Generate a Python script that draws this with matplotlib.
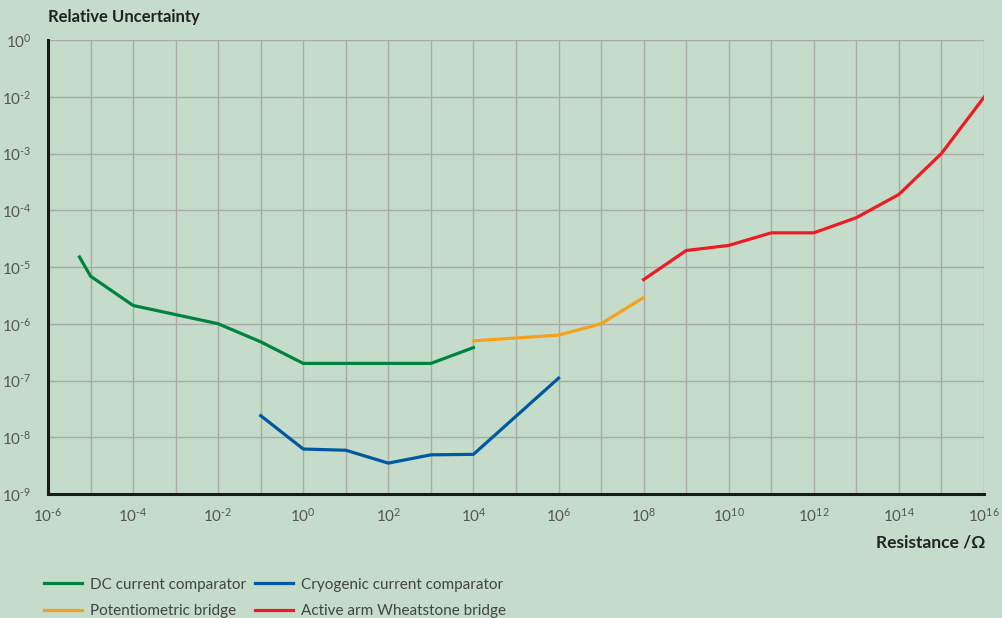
import matplotlib.pyplot as plt
import numpy as np

plt.rcParams['font.family'] = ['Lato', 'DejaVu Sans']
plt.rcParams['mathtext.fontset'] = 'custom'
plt.rcParams['mathtext.rm'] = 'Lato'
plt.rcParams['mathtext.it'] = 'Lato'

# ---- data ----
dc_r = [5.5e-6, 1e-5, 1e-4, 1e-2, 1e-1, 1e0, 1e1, 1e2, 1e3, 1e4]
dc_u = [1.5e-5, 6.9e-6, 2.1e-6, 1.0e-6, 4.8e-7, 2.0e-7, 2.0e-7, 2.0e-7, 2.0e-7, 3.8e-7]

cryo_r = [1e-1, 1e0, 1e1, 1e2, 1e3, 1e4, 1e6]
cryo_u = [2.4e-8, 6.2e-9, 5.9e-9, 3.5e-9, 4.9e-9, 5.0e-9, 1.1e-7]

pot_r = [1e4, 1e6, 1e7, 1e8]
pot_u = [5.0e-7, 6.3e-7, 1.0e-6, 2.9e-6]

wheat_r = [1e8, 1e9, 1e10, 1e11, 1e12, 1e13, 1e14, 1e15, 1e16]
wheat_u = [6.0e-6, 1.95e-5, 2.4e-5, 4.0e-5, 4.0e-5, 7.4e-5, 1.9e-4, 1.0e-3, 9.8e-3]

x_exps = list(range(-6, 17))
y_exps = list(range(-9, 0))
y_sup = ['-9', '-8', '-7', '-6', '-5', '-4', '-3', '-2', '0']

bg = '#c4dcc9'
txt = '#555555'


def pow10(s):
    # short hyphen in the exponent, like the printed figure
    return '$10^{%s}$' % s.replace('-', '\u2010')


fig = plt.figure(figsize=(10.02, 6.18), dpi=100, facecolor=bg)
ax = fig.add_axes([48 / 1002, 1 - 494 / 618, (984 - 48) / 1002, (494 - 40) / 618])
ax.set_facecolor(bg)

ax.plot(dc_r, dc_u, color='#00843d', lw=2.3, label='DC current comparator', zorder=3)
ax.plot(pot_r, pot_u, color='#f7a11a', lw=2.3, label='Potentiometric bridge', zorder=3)
ax.plot(cryo_r, cryo_u, color='#0059a0', lw=2.3, label='Cryogenic current comparator', zorder=3)
ax.plot(wheat_r, wheat_u, color='#ed1c24', lw=2.3, label='Active arm Wheatstone bridge', zorder=3)

ax.set_xscale('log')
ax.set_yscale('log')
ax.set_xlim(1e-6, 1e16)
ax.set_ylim(1e-9, 1e-1)

ax.set_xticks([10.0 ** e for e in x_exps])
ax.set_xticklabels([pow10(str(e)) if e % 2 == 0 else '' for e in x_exps])
ax.set_yticks([10.0 ** e for e in y_exps])
ax.set_yticklabels([pow10(s) for s in y_sup])
ax.minorticks_off()
ax.tick_params(length=0, colors=txt, labelsize=11)
ax.tick_params(axis='x', pad=9)
ax.tick_params(axis='y', pad=12)

ax.grid(True, color='#aaaaaa', lw=1.0, zorder=1)
for s in ['top', 'right']:
    ax.spines[s].set_visible(False)
for s in ['left', 'bottom']:
    ax.spines[s].set_color('#1a1a1a')
    ax.spines[s].set_linewidth(2.2)
    ax.spines[s].set_zorder(4)

fig.text(48 / 1002, 1 - 17 / 618, 'Relative Uncertainty', ha='left', va='center',
         fontsize=12, weight='bold', color='#222222')
fig.text(985 / 1002, 1 - 542 / 618, 'Resistance /Ω', ha='right', va='center',
         fontsize=12.5, weight='bold', color='#222222')

fig.legend(loc='upper left', bbox_to_anchor=(30 / 1002, 1 - 564 / 618), ncol=2,
           frameon=False, fontsize=11, labelcolor='#444444', handlelength=2.5,
           handletextpad=0.5, columnspacing=0.6, labelspacing=0.8)

fig.savefig('out.png', dpi=100, facecolor=bg)
